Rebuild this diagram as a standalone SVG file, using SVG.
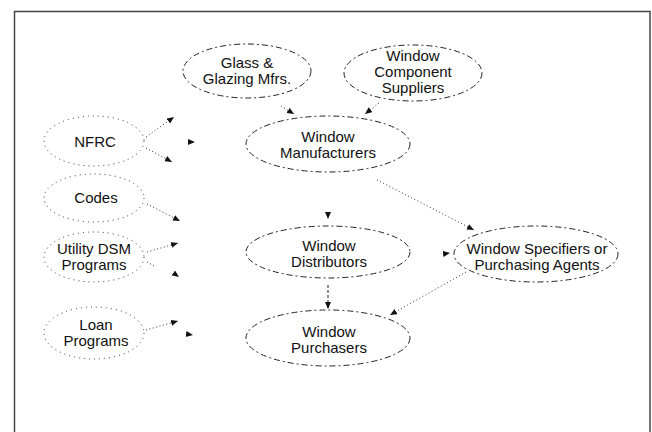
<svg xmlns="http://www.w3.org/2000/svg" width="652" height="432" viewBox="0 0 652 432">
<style>
text{font-family:"Liberation Sans",Arial,sans-serif;font-size:15px;fill:#111;text-anchor:middle}
.main{fill:none;stroke:#222;stroke-width:1;stroke-dasharray:6 3 2 3}
.dot{fill:none;stroke:#333;stroke-width:1;stroke-dasharray:1 4}
.c{fill:none;stroke:#333;stroke-width:1;stroke-dasharray:1 2.5}
.v{fill:none;stroke:#222;stroke-width:1;stroke-dasharray:3 2}
.h{fill:none;stroke:none}
</style>
<defs>
<marker id="a" markerUnits="userSpaceOnUse" markerWidth="8" markerHeight="8" refX="7" refY="3" orient="auto">
<path d="M0,0 L7,3 L0,6 z" fill="#111"/>
</marker>
</defs>
<rect x="14.5" y="11.5" width="635.5" height="440" fill="none" stroke="#444" stroke-width="1.5"/>
<g id="glass"><ellipse class="main" cx="247" cy="71" rx="64" ry="27"/><text x="247" y="68">Glass &amp;</text><text x="247" y="84">Glazing Mfrs.</text></g>
<g id="component"><ellipse class="main" cx="413" cy="73" rx="69" ry="28"/><text x="413" y="61">Window</text><text x="413" y="77">Component</text><text x="413" y="93">Suppliers</text></g>
<g id="manufacturers"><ellipse class="main" cx="328" cy="144" rx="82" ry="28"/><text x="328" y="142">Window</text><text x="328" y="158">Manufacturers</text></g>
<g id="nfrc"><ellipse class="dot" cx="94" cy="141" rx="50" ry="25"/><text x="95" y="147">NFRC</text></g>
<g id="codes"><ellipse class="dot" cx="94" cy="198" rx="50" ry="24"/><text x="96" y="203">Codes</text></g>
<g id="utility"><ellipse class="dot" cx="94" cy="257" rx="50" ry="25"/><text x="94" y="254">Utility DSM</text><text x="94" y="270">Programs</text></g>
<g id="loan"><ellipse class="dot" cx="94" cy="333" rx="50" ry="26"/><text x="96" y="330">Loan</text><text x="96" y="346">Programs</text></g>
<g id="distributors"><ellipse class="main" cx="328" cy="252" rx="82" ry="26"/><text x="329" y="251">Window</text><text x="329" y="267">Distributors</text></g>
<g id="specifiers"><ellipse class="main" cx="536" cy="254" rx="82" ry="28"/><text x="537" y="254">Window Specifiers or</text><text x="537" y="270">Purchasing Agents</text></g>
<g id="purchasers"><ellipse class="main" cx="328" cy="338" rx="82" ry="28"/><text x="329" y="337">Window</text><text x="329" y="353">Purchasers</text></g>
<g id="connectors">
<path class="c" d="M281,106 L294,114" marker-end="url(#a)"/>
<path class="c" d="M379,103 L365,114" marker-end="url(#a)"/>
<path class="c" d="M146,137 L174,117" marker-end="url(#a)"/>
<path class="h" d="M188,142 L195,142" marker-end="url(#a)"/>
<path class="c" d="M146,148 L172,162" marker-end="url(#a)"/>
<path class="c" d="M147,204 L180,221" marker-end="url(#a)"/>
<path class="c" d="M147,252 L178,243" marker-end="url(#a)"/>
<path class="c" d="M147,262 L156,267"/>
<path class="h" d="M172,272 L179,277" marker-end="url(#a)"/>
<path class="c" d="M146,330 L178,321" marker-end="url(#a)"/>
<path class="h" d="M186,334 L193,335" marker-end="url(#a)"/>
<path class="h" d="M328,212 L328,219" marker-end="url(#a)"/>
<path class="c" d="M377,180 L474,230" marker-end="url(#a)"/>
<path class="v" d="M328,285 L328,309" marker-end="url(#a)"/>
<path class="c" d="M466,272 L390,315" marker-end="url(#a)"/>
<path class="h" d="M443,254 L450,253" marker-end="url(#a)"/>
</g>
</svg>
